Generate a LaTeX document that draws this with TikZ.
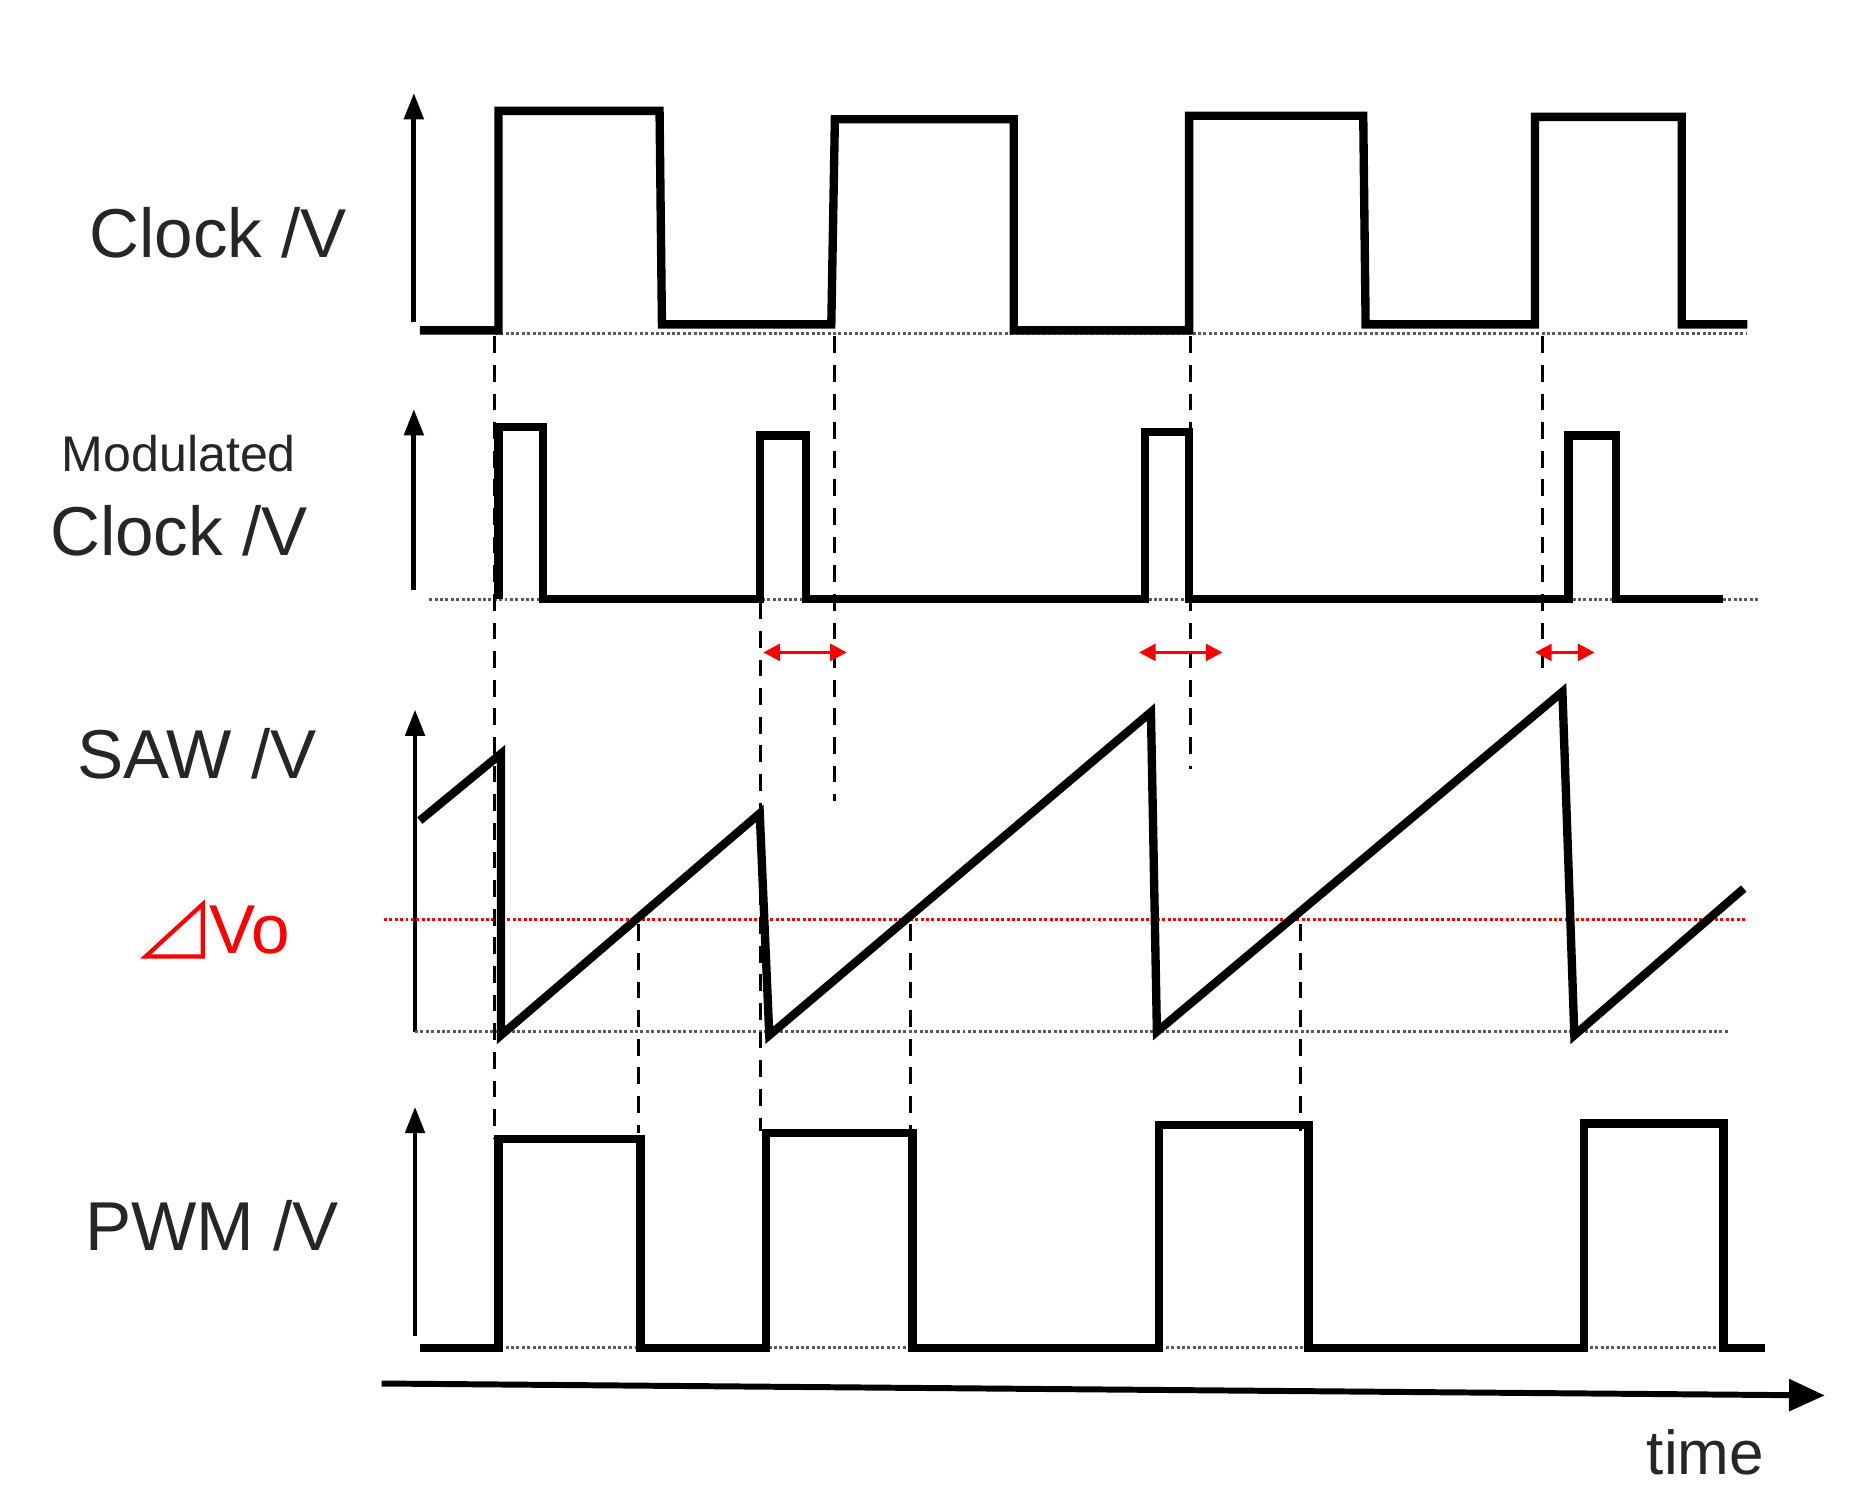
\documentclass[tikz,border=0pt]{standalone}
\usepackage{fontspec}
\setmainfont{Liberation Sans}
\usetikzlibrary{arrows.meta}
\begin{document}
\begin{tikzpicture}[x=1pt,y=-1pt,
  sig/.style={line width=7pt,line join=miter},
  ax/.style={line width=4pt,-{Triangle[length=22pt,width=16pt]}},
  base/.style={dotted,line width=2.5pt,gray!70!black},
  dsh/.style={dashed,line width=2.5pt,dash pattern=on 14pt off 10pt},
  lbl/.style={font=\fontsize{58}{64}\selectfont,text=black!85},
  redarr/.style={red,line width=3pt,{Triangle[length=14pt,width=14pt]}-{Triangle[length=14pt,width=14pt]}}]
\useasboundingbox (0,0) rectangle (1557,1265);
% labels
\node[lbl] (lc) at (183,195) {Clock /V};
\node[lbl,font=\fontsize{42}{48}\selectfont] (lm) at (150,380) {Modulated};
\node[lbl] (lmc) at (150,445) {Clock /V};
\node[lbl] (ls) at (165,632) {SAW /V};
\node[lbl,text=red,anchor=west] (ld) at (172,780) {Vo};
\draw[red,line width=3.5pt,line join=miter] (122,802) -- (170,802) -- (170,758) -- cycle;
\node[lbl] (lp) at (178,1028) {PWM /V};
\node[lbl,font=\fontsize{52}{58}\selectfont] (lt) at (1430,1218) {time};
% axes
\coordinate (a1b) at (347,270); \coordinate (a1t) at (347,78);
\coordinate (a2b) at (347,495); \coordinate (a2t) at (347,343);
\coordinate (a3b) at (348,865); \coordinate (a3t) at (348,595);
\coordinate (a4b) at (348,1120); \coordinate (a4t) at (348,928);
\draw[ax] (a1b) -- (a1t);
\draw[ax] (a2b) -- (a2t);
\draw[ax] (a3b) -- (a3t);
\draw[ax] (a4b) -- (a4t);
\coordinate (t0) at (320,1160); \coordinate (t1) at (1530,1170);
\draw[line width=5pt,-{Triangle[length=30pt,width=26pt]}] (t0) -- (t1);
% baselines
\draw[base] (415,280) -- (1465,280);
\draw[base] (360,503) -- (1475,503);
\draw[base] (348,865) -- (1450,865);
\draw[base] (415,1130) -- (1480,1130);
\draw[red,dotted,line width=2.5pt] (322,771) -- (1465,771);
% dashed verticals
\draw[dsh] (415,282) -- (415,955);
\draw[dsh] (700,282) -- (700,672);
\draw[dsh] (998,282) -- (998,645);
\draw[dsh] (1293,282) -- (1293,570);
\draw[dsh] (638,505) -- (638,948);
\draw[dsh] (535,775) -- (535,950);
\draw[dsh] (763,775) -- (763,948);
\draw[dsh] (1090,775) -- (1090,948);
% red arrows
\draw[redarr] (640,547) -- (710,547);
\draw[redarr] (955,547) -- (1025,547);
\draw[redarr] (1287,547) -- (1337,547);
% clock
\draw[sig] (352,277) -- (418,277) -- (418,93) -- (553,93) -- (555,272) -- (697,272) -- (700,100) -- (850,100) -- (850,277) -- (997,277) -- (997,97) -- (1143,97) -- (1145,272) -- (1287,272) -- (1287,98) -- (1410,98) -- (1410,272) -- (1465,272);
% modulated clock
\draw[sig] (418,502) -- (418,358) -- (455,358) -- (455,502) -- (637,502) -- (637,365) -- (676,365) -- (676,502) -- (960,502) -- (960,362) -- (997,362) -- (997,502) -- (1315,502) -- (1315,365) -- (1355,365) -- (1355,502) -- (1445,502);
% saw
\draw[sig] (352,688) -- (420,632) -- (420,868) -- (637,682) -- (645,868) -- (965,597) -- (970,865) -- (1310,580) -- (1320,868) -- (1462,745);
% pwm
\draw[sig] (352,1130) -- (418,1130) -- (418,955) -- (537,955) -- (537,1130) -- (642,1130) -- (642,950) -- (765,950) -- (765,1130) -- (972,1130) -- (972,943) -- (1097,943) -- (1097,1130) -- (1328,1130) -- (1328,942) -- (1445,942) -- (1445,1130) -- (1480,1130);
\end{tikzpicture}
\end{document}
